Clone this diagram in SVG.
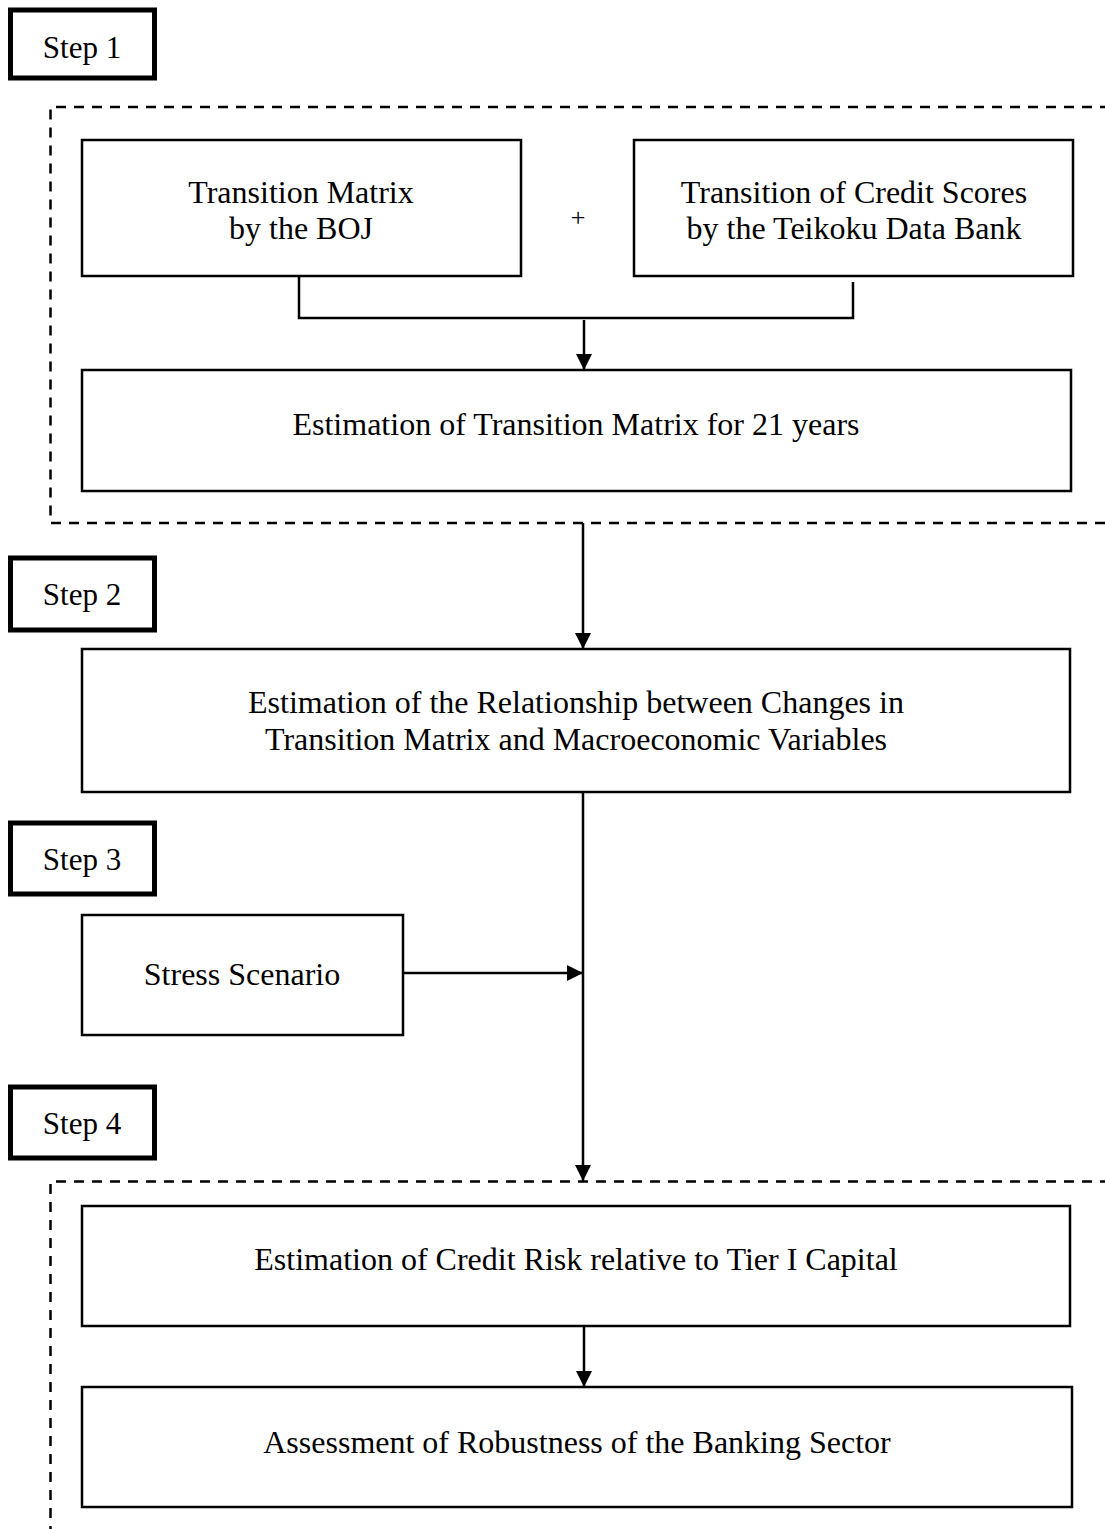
<svg xmlns="http://www.w3.org/2000/svg" width="1105" height="1529" viewBox="0 0 1105 1529">
<style>
.step{fill:#fff;stroke:#000;stroke-width:5}
.box{fill:#fff;stroke:#000;stroke-width:2.5}
.dash{fill:none;stroke:#000;stroke-width:2.5;stroke-dasharray:10 8}
.ln{fill:none;stroke:#000;stroke-width:2.5}
text{font-family:"Liberation Serif","Times New Roman",serif;font-size:32px;fill:#000;text-anchor:middle}
.st{font-size:31px}
</style>
<defs>
<marker id="ah" markerWidth="16" markerHeight="16" refX="16" refY="8" orient="auto" markerUnits="userSpaceOnUse">
<path d="M0,0 L16,8 L0,16 Z" fill="#000"/>
</marker>
</defs>
<g id="frames">
<path class="dash" d="M1110,107 L50.5,107 L50.5,523 L1110,523"/>
<path class="dash" d="M1110,1181.5 L50.5,1181.5 L50.5,1535"/>
</g>
<g id="step1"><rect class="step" x="10.5" y="10" width="144" height="68"/><text class="st" x="82" y="58">Step 1</text></g>
<g id="step2"><rect class="step" x="10.5" y="558" width="144" height="72"/><text class="st" x="82" y="605">Step 2</text></g>
<g id="step3"><rect class="step" x="10.5" y="823" width="144" height="71"/><text class="st" x="82" y="870">Step 3</text></g>
<g id="step4"><rect class="step" x="10.5" y="1087" width="144" height="71"/><text class="st" x="82" y="1134">Step 4</text></g>
<g id="boj"><rect class="box" x="82" y="140" width="439" height="136"/><text x="301" y="203">Transition Matrix</text><text x="301" y="239">by the BOJ</text></g>
<g id="plus"><text x="578" y="226" style="font-size:26px">+</text></g>
<g id="tdb"><rect class="box" x="634" y="140" width="439" height="136"/><text x="854" y="203">Transition of Credit Scores</text><text x="854" y="239">by the Teikoku Data Bank</text></g>
<g id="est21"><rect class="box" x="82" y="370" width="989" height="121"/><text x="576" y="435">Estimation of Transition Matrix for 21 years</text></g>
<g id="rel"><rect class="box" x="82" y="649" width="988" height="143"/><text x="576" y="713">Estimation of the Relationship between Changes in</text><text x="576" y="750">Transition Matrix and Macroeconomic Variables</text></g>
<g id="stress"><rect class="box" x="82" y="915" width="321" height="120"/><text x="242" y="985">Stress Scenario</text></g>
<g id="credit"><rect class="box" x="82" y="1206" width="988" height="120"/><text x="576" y="1270">Estimation of Credit Risk relative to Tier I Capital</text></g>
<g id="robust"><rect class="box" x="82" y="1387" width="990" height="120"/><text x="577" y="1453">Assessment of Robustness of the Banking Sector</text></g>
<g id="connectors">
<path class="ln" d="M299,276 L299,318 L853,318 L853,282"/>
<path class="ln" d="M584,320 L584,370" marker-end="url(#ah)"/>
<path class="ln" d="M583,523 L583,649" marker-end="url(#ah)"/>
<path class="ln" d="M583,792 L583,1181" marker-end="url(#ah)"/>
<path class="ln" d="M403,973 L583,973" marker-end="url(#ah)"/>
<path class="ln" d="M584,1326 L584,1387" marker-end="url(#ah)"/>
</g>
</svg>
